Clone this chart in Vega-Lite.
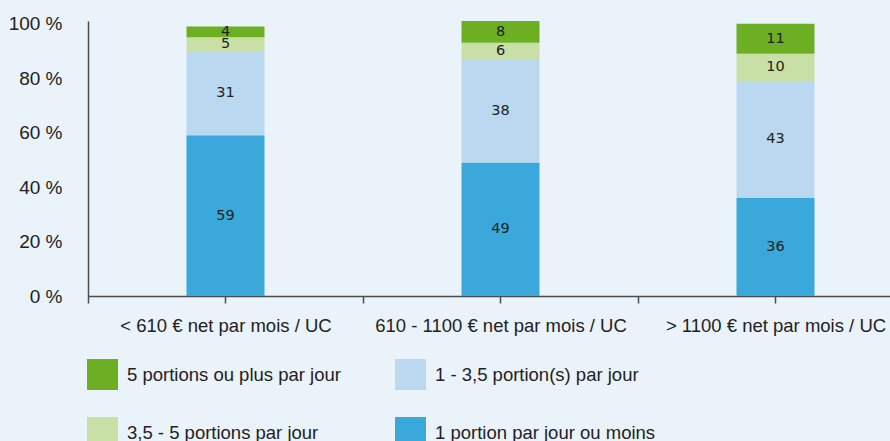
{
  "$schema": "https://vega.github.io/schema/vega-lite/v6.json",
  "width": 802,
  "height": 275,
  "autosize": {"type": "none"},
  "padding": {"left": 88, "top": 21, "right": 0, "bottom": 145},
  "background": "#EAF2FA",
  "config": {"view": {"stroke": null}},
  "data": {
    "values": [
      {"revenu": "< 610 € net par mois / UC", "portion": "1  portion par jour ou moins", "pct": 59},
      {"revenu": "< 610 € net par mois / UC", "portion": "1 - 3,5 portion(s) par jour", "pct": 31},
      {"revenu": "< 610 € net par mois / UC", "portion": "3,5 - 5 portions par jour", "pct": 5},
      {"revenu": "< 610 € net par mois / UC", "portion": "5 portions ou plus par jour", "pct": 4},
      {"revenu": "610 - 1100 € net par mois / UC", "portion": "1  portion par jour ou moins", "pct": 49},
      {"revenu": "610 - 1100 € net par mois / UC", "portion": "1 - 3,5 portion(s) par jour", "pct": 38},
      {"revenu": "610 - 1100 € net par mois / UC", "portion": "3,5 - 5 portions par jour", "pct": 6},
      {"revenu": "610 - 1100 € net par mois / UC", "portion": "5 portions ou plus par jour", "pct": 8},
      {"revenu": "> 1100 € net par mois / UC", "portion": "1  portion par jour ou moins", "pct": 36},
      {"revenu": "> 1100 € net par mois / UC", "portion": "1 - 3,5 portion(s) par jour", "pct": 43},
      {"revenu": "> 1100 € net par mois / UC", "portion": "3,5 - 5 portions par jour", "pct": 10},
      {"revenu": "> 1100 € net par mois / UC", "portion": "5 portions ou plus par jour", "pct": 11}
    ]
  },
  "layer": [
    {
      "mark": {"type": "bar", "width": 78},
      "encoding": {
        "x": {
          "field": "revenu", "type": "nominal",
          "sort": ["< 610 € net par mois / UC", "610 - 1100 € net par mois / UC", "> 1100 € net par mois / UC"],
          "scale": {"range": [0, 825], "paddingInner": 0, "paddingOuter": 0},
          "axis": {
            "title": null, "orient": "bottom", "tickBand": "extent", "tickSize": 7, "tickWidth": 1.5,
            "tickColor": "#4d4d4d", "domainColor": "#4d4d4d", "domainWidth": 1.5,
            "labelAngle": 0, "labelPadding": 13, "labelFont": "Liberation Sans", "labelFontSize": 18.5,
            "labelColor": "#222222", "labelLimit": 400
          }
        },
        "y": {
          "field": "pct", "type": "quantitative", "stack": "zero",
          "scale": {"domain": [0, 101], "nice": false},
          "axis": {
            "title": null, "values": [0, 20, 40, 60, 80, 100], "labelExpr": "datum.value + ' %'",
            "grid": false, "ticks": false, "labelPadding": 26, "labelFont": "Liberation Sans",
            "labelFontSize": 19, "labelColor": "#222222", "domainColor": "#4d4d4d", "domainWidth": 1.5
          }
        },
        "color": {
          "field": "portion", "type": "nominal",
          "scale": {
            "domain": ["5 portions ou plus par jour", "3,5 - 5 portions par jour", "1 - 3,5 portion(s) par jour", "1  portion par jour ou moins"],
            "range": ["#6DAF22", "#C8DFA6", "#BAD9F0", "#3AA8DA"]
          },
          "legend": {
            "title": null, "orient": "none", "legendX": -1, "legendY": 338, "columns": 2,
            "symbolType": "square", "symbolSize": 961, "symbolStrokeWidth": 0, "symbolOpacity": 1,
            "labelOffset": 9, "columnPadding": 54, "rowPadding": 27,
            "labelFont": "Liberation Sans", "labelFontSize": 18.5, "labelColor": "#222222", "labelLimit": 400
          }
        },
        "order": {"field": "portion", "sort": "ascending"}
      }
    },
    {
      "transform": [
        {"stack": "pct", "groupby": ["revenu"], "sort": [{"field": "portion", "order": "ascending"}], "as": ["p0", "p1"]},
        {"calculate": "(datum.p0 + datum.p1) / 2", "as": "mid"}
      ],
      "mark": {"type": "text", "font": "DejaVu Sans", "fontSize": 14.5, "color": "#222222", "baseline": "middle"},
      "encoding": {
        "x": {
          "field": "revenu", "type": "nominal",
          "sort": ["< 610 € net par mois / UC", "610 - 1100 € net par mois / UC", "> 1100 € net par mois / UC"],
          "axis": {
            "title": null, "orient": "bottom", "labels": false, "domain": false, "tickSize": 7,
            "tickWidth": 1.5, "tickColor": "#4d4d4d"
          }
        },
        "y": {"field": "mid", "type": "quantitative", "scale": {"domain": [0, 101], "nice": false}, "axis": {"title": null}},
        "text": {"field": "pct", "type": "quantitative"}
      }
    }
  ],
  "resolve": {"axis": {"x": "independent"}}
}
